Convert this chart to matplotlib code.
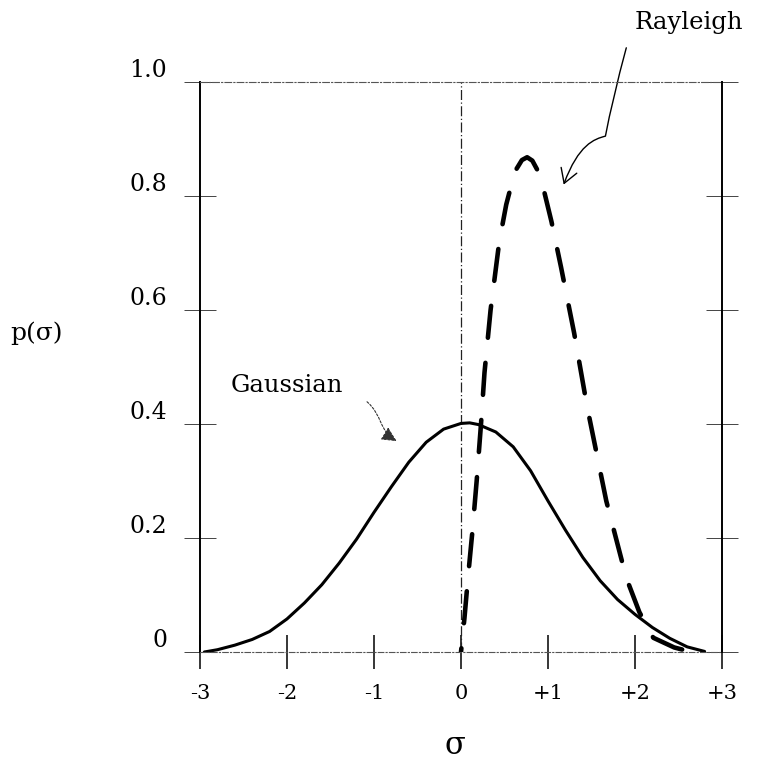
"""
Gauss- und Rayleigh-Dichte p(sigma) im Vergleich
"""
import numpy as np
import matplotlib
matplotlib.use('Agg')
from matplotlib import pyplot as plt
from matplotlib.path import Path
from matplotlib.patches import FancyArrowPatch

# Gaussian curve
sigma_gauss = [-2.95, -2.80, -2.60, -2.40, -2.20, -2.00, -1.80, -1.60, -1.40, -1.20,
               -1.00, -0.80, -0.60, -0.40, -0.20, 0.00, 0.10, 0.20, 0.40, 0.60,
               0.80, 1.00, 1.20, 1.40, 1.60, 1.80, 2.00, 2.20, 2.40, 2.60, 2.80]
p_gauss = [0.0, 0.004, 0.012, 0.022, 0.036, 0.058, 0.086, 0.118, 0.156, 0.198,
           0.245, 0.290, 0.333, 0.368, 0.391, 0.401, 0.402, 0.399, 0.386, 0.360,
           0.318, 0.265, 0.214, 0.166, 0.125, 0.092, 0.066, 0.043, 0.024, 0.009, 0.001]

# Rayleigh curve
sigma_rayleigh = [0.0, 0.04, 0.08, 0.13, 0.18, 0.23, 0.27, 0.34, 0.44, 0.52, 0.58,
                  0.64, 0.70, 0.76, 0.82, 0.88, 0.94, 1.04, 1.15, 1.30, 1.45, 1.67,
                  1.90, 2.05, 2.21, 2.45, 2.65]
p_rayleigh = [0.0, 0.06, 0.13, 0.21, 0.30, 0.40, 0.49, 0.60, 0.72, 0.785, 0.82,
              0.848, 0.863, 0.868, 0.862, 0.845, 0.818, 0.755, 0.675, 0.56, 0.43, 0.265,
              0.13, 0.07, 0.025, 0.008, 0.0]

x_ticks = [-3, -2, -1, 0, 1, 2, 3]
x_tick_labels = ['-3', '-2', '-1', '0', '+1', '+2', '+3']
y_ticks = [0, 0.2, 0.4, 0.6, 0.8, 1.0]
y_tick_labels = ['0', '0.2', '0.4', '0.6', '0.8', '1.0']

DASH = (7, 5.5)
LW_RAYLEIGH = 3.3


def dash_offset_for_peak(ax, x, y, dash, lw):
    """Strichmuster so verschieben, dass ein Strich mittig auf dem Maximum liegt."""
    pts = ax.transData.transform(np.column_stack([x, y]))
    seg = np.hypot(*np.diff(pts, axis=0).T) * 72 / ax.figure.dpi
    i_peak = int(np.argmax(y))
    l_peak = seg[:i_peak].sum() / lw
    period = dash[0] + dash[1]
    return (dash[0] / 2 - l_peak) % period


def main():
    plt.rcParams['font.family'] = ['DejaVu Serif']

    fig = plt.figure(figsize=(7.65, 7.6), dpi=100)
    ax = fig.add_axes([200 / 765, 108 / 760, 522 / 765, 570 / 760])
    ax.set_xlim(-3, 3)
    ax.set_ylim(0, 1.0)

    # Rahmen: links/rechts durchgezogen, oben/unten strichpunktiert
    for side in ['left', 'right']:
        ax.spines[side].set(linewidth=1.4, color='black')
    ax.spines['top'].set(linewidth=0.8, color='#555555', linestyle=(0, (6, 2, 1, 2)))
    ax.spines['bottom'].set(linewidth=0.8, color='#555555', linestyle=(0, (5, 2, 1, 2)))
    ax.axvline(0, color='#222222', linewidth=0.9, linestyle=(0, (8, 2, 1, 2)))

    ax.set_xticks(x_ticks, x_tick_labels)
    ax.set_yticks(y_ticks, y_tick_labels)
    ax.tick_params(axis='x', direction='inout', length=24.5, width=1.1, pad=10.5,
                   labelsize=15)
    ax.tick_params(axis='y', direction='inout', length=23, width=0.7, pad=12,
                   labelsize=17, color='#444444', right=True)
    for label in ax.get_yticklabels():
        label.set_verticalalignment('bottom')

    ax.plot(sigma_gauss, p_gauss, color='black', linewidth=2.2,
            solid_capstyle='round', solid_joinstyle='round')
    offset = dash_offset_for_peak(ax, sigma_rayleigh, p_rayleigh, DASH, LW_RAYLEIGH)
    ax.plot(sigma_rayleigh, p_rayleigh, color='black', linewidth=LW_RAYLEIGH,
            linestyle=(offset, DASH), dash_capstyle='round', dash_joinstyle='round')

    # Beschriftungen mit Pfeilen
    ax.text(-2.0, 0.468, 'Gaussian', fontsize=17.5, ha='center', va='center')
    ax.text(2.62, 1.105, 'Rayleigh', fontsize=17.5, ha='center', va='center')

    gauss_path = Path([(-1.08, 0.439), (-0.90, 0.415), (-0.95, 0.39), (-0.74, 0.37)],
                      [Path.MOVETO, Path.CURVE4, Path.CURVE4, Path.CURVE4])
    ax.add_patch(FancyArrowPatch(path=gauss_path, arrowstyle='-|>,head_length=0.45,head_width=0.22',
                                 mutation_scale=20, linewidth=0.8, color='#333333',
                                 linestyle=(0, (2, 1.5)),
                                 transform=ax.transData, clip_on=False))

    rayleigh_path = Path([(1.90, 1.06), (1.74, 0.97), (1.66, 0.905),
                          (1.53, 0.90), (1.35, 0.89), (1.18, 0.82)],
                         [Path.MOVETO, Path.CURVE3, Path.CURVE3,
                          Path.CURVE4, Path.CURVE4, Path.CURVE4])
    ax.add_patch(FancyArrowPatch(path=rayleigh_path, arrowstyle='->,head_length=0.5,head_width=0.3',
                                 mutation_scale=20, linewidth=1.0, color='black',
                                 transform=ax.transData, clip_on=False))

    fig.text(10 / 765, 1 - 333 / 760, 'p(σ)', fontsize=18, ha='left', va='center')
    fig.text(455 / 765, 1 - 745 / 760, 'σ', fontsize=22, ha='center', va='center')

    fig.savefig('out.png', dpi=100)


if __name__ == '__main__':
    main()
